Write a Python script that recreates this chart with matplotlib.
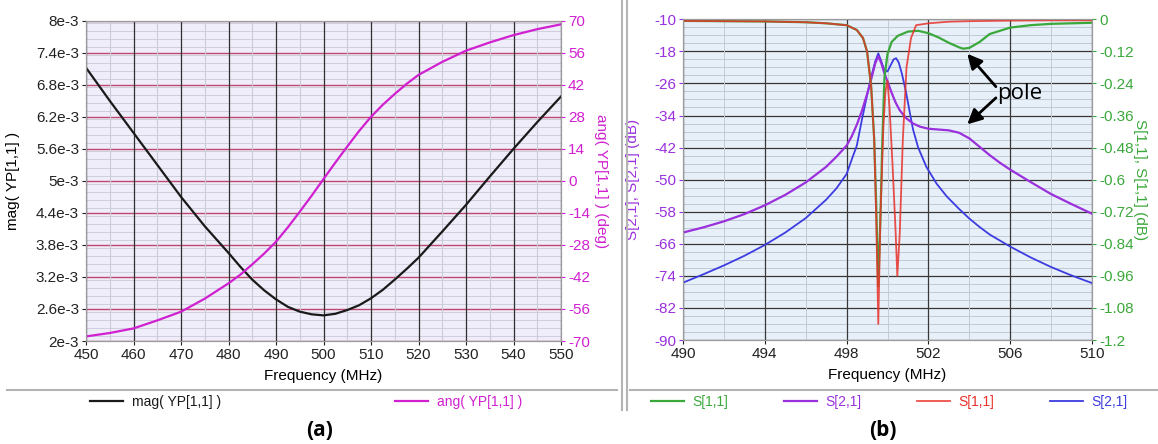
import numpy as np
import matplotlib.pyplot as plt
from matplotlib.ticker import MultipleLocator, FuncFormatter
from matplotlib.lines import Line2D

plt.rcParams['font.family'] = ['Liberation Sans', 'DejaVu Sans']
plt.rcParams['axes.unicode_minus'] = False

# ---- panel (a): YP[1,1] ----
freq_a = [450, 455, 460, 465, 470, 475, 480, 482.5, 485, 487.5, 490, 492.5, 495, 497.5, 500,
          502.5, 505, 507.5, 510, 512.5, 515, 517.5, 520, 525, 530, 535, 540, 545, 550]
mag_a = [7.12e-3, 6.50e-3, 5.90e-3, 5.30e-3, 4.70e-3, 4.15e-3, 3.65e-3, 3.39e-3, 3.15e-3, 2.95e-3,
         2.78e-3, 2.64e-3, 2.55e-3, 2.50e-3, 2.48e-3, 2.51e-3, 2.58e-3, 2.67e-3, 2.80e-3, 2.96e-3,
         3.15e-3, 3.35e-3, 3.56e-3, 4.05e-3, 4.55e-3, 5.08e-3, 5.60e-3, 6.10e-3, 6.58e-3]
ang_a = [-68.0, -66.5, -64.5, -61.0, -57.2, -51.5, -44.8, -41.0, -36.5, -31.8, -26.6, -20.3, -13.5,
         -6.5, 0.8, 8.0, 15.0, 21.8, 28.0, 33.3, 38.0, 42.4, 46.3, 52.0, 56.9, 60.5, 63.7, 66.3, 68.4]

# ---- panel (b): S-parameters ----
freq_blue = [490, 491, 492, 493, 494, 495, 496, 497, 497.5, 498,
             498.25, 498.5, 498.75, 499, 499.2, 499.4, 499.55, 499.7, 499.85, 500,
             500.15, 500.3, 500.42, 500.55, 500.7, 500.9, 501.1, 501.25, 501.5, 501.9,
             502.4, 502.9, 503.5, 504, 504.5, 505, 505.5, 506, 507, 508, 509, 510]
s21_blue = [-75.7, -73.6, -71.4, -69.0, -66.3, -63.2, -59.6, -55.0, -52.2, -48.6,
            -45.0, -41.5, -35.0, -29.0, -24.5, -20.5, -18.5, -20.5, -22.8, -23.0,
            -21.5, -20.0, -19.7, -20.8, -23.5, -28.0, -33.5, -37.5, -42.0, -46.8,
            -51.0, -54.2, -57.3, -59.7, -61.8, -63.7, -65.2, -66.7, -69.4, -71.8, -73.9, -75.8]

freq_purple = [490, 491, 492, 493, 494, 495, 496, 497, 497.5, 498,
               498.25, 498.5, 498.75, 499, 499.2, 499.4, 499.55, 499.7, 499.85, 500,
               500.2, 500.4, 500.6, 500.9, 501.25, 501.6, 502, 502.5, 503, 503.5,
               504, 504.5, 505, 505.5, 506, 507, 508, 509, 510]
s21_purple = [-63.2, -61.9, -60.4, -58.6, -56.4, -53.8, -50.7, -46.8, -44.3, -41.5,
              -39.2, -36.3, -32.8, -28.7, -25.0, -21.0, -19.2, -21.0, -23.5, -25.5,
              -28.3, -30.8, -32.7, -34.6, -36.0, -36.8, -37.3, -37.5, -37.7, -38.3,
              -39.7, -41.8, -43.9, -45.8, -47.5, -50.6, -53.6, -56.1, -58.5]

freq_red = [490, 492, 494, 496, 497, 498, 498.5, 498.8, 499.0, 499.2, 499.35, 499.45, 499.55,
            499.65, 499.8, 499.9, 500.0, 500.1, 500.25, 500.4, 500.48, 500.6, 500.75, 500.93,
            501.15, 501.4, 502, 503, 504, 506, 508, 510]
s11_red = [-0.006, -0.007, -0.008, -0.011, -0.015, -0.022, -0.04, -0.07, -0.12, -0.25, -0.45, -0.75, -1.14,
           -0.75, -0.4, -0.27, -0.23, -0.33, -0.55, -0.8, -0.96, -0.8, -0.45, -0.18,
           -0.07, -0.022, -0.015, -0.009, -0.007, -0.005, -0.004, -0.004]

freq_green = [490, 492, 494, 496, 497, 498, 498.5, 498.8, 499.0, 499.2, 499.35, 499.45, 499.55,
              499.65, 499.75, 499.85, 500.0, 500.2, 500.5, 501.0, 501.5, 502, 502.5, 503, 503.5,
              503.7, 504, 504.5, 505, 506, 507, 508, 510]
s11_green = [-0.006, -0.007, -0.008, -0.011, -0.015, -0.022, -0.04, -0.07, -0.12, -0.25, -0.45, -0.7, -1.0,
             -0.75, -0.45, -0.22, -0.13, -0.085, -0.062, -0.046, -0.043, -0.052, -0.068, -0.088, -0.105,
             -0.11, -0.107, -0.085, -0.055, -0.031, -0.022, -0.017, -0.013]

W, H = 1158, 444
fig = plt.figure(figsize=(W / 100, H / 100), dpi=100)
fig.patch.set_facecolor('white')

MAGENTA = '#d020d0'
GREEN = '#3aa83a'
PURPLE = '#9a30dc'
RED = '#e8322a'
BLUE = '#3c3ce0'


def style_spines(ax):
    for s in ax.spines.values():
        s.set_color('#9a9a9a')
        s.set_linewidth(0.8)


def entry(handle, x):
    # one legend entry below a panel, handle starting at pixel x
    fig.legend([handle], [handle.get_label()], loc='center left',
               bbox_to_anchor=(x / W, 1 - 402 / H), frameon=False,
               borderpad=0, borderaxespad=0, handlelength=2.4, handletextpad=0.6,
               fontsize=10, labelcolor='linecolor')


# ---------- (a) ----------
ax1 = fig.add_axes([86 / W, 1 - 341 / H, 475 / W, 320.3 / H])
ax1.set_facecolor('#eeedf9')
ax1.set_axisbelow(True)
ax1.xaxis.set_zorder(0.6)
ax1.set_xlim(450, 550)
ax1.set_ylim(2e-3, 8e-3)
ax1.xaxis.set_major_locator(MultipleLocator(10))
ax1.xaxis.set_minor_locator(MultipleLocator(5))
ax1.set_yticks(np.linspace(2e-3, 8e-3, 11))
ax1.yaxis.set_minor_locator(MultipleLocator(0.15e-3))
ax1.yaxis.set_major_formatter(FuncFormatter(lambda v, p: f"{round(v * 1e3, 1):g}e-3"))
ax1.grid(True, which='major', axis='x', color='#303030', lw=0.9)
ax1.grid(True, which='minor', axis='x', color='#cacada', lw=0.8)
ax1.grid(True, which='major', axis='y', color='#c04870', lw=1.0)
ax1.grid(True, which='minor', axis='y', color='#cfcfdd', lw=0.7)
ax1.tick_params(which='minor', length=0)
ax1.tick_params(which='major', length=3, pad=2, labelsize=11, colors='#222222')
l_mag, = ax1.plot(freq_a, mag_a, color='#1a1a1a', lw=1.6, label='mag( YP[1,1] )')
ax1.set_xlabel('Frequency (MHz)', fontsize=11, labelpad=5)
ax1.set_ylabel('mag( YP[1,1] )', fontsize=11)
ax1.yaxis.set_label_coords(-0.139, 0.5)
style_spines(ax1)

ax1b = ax1.twinx()
ax1b.set_ylim(-70, 70)
ax1b.set_yticks(np.arange(-70, 71, 14))
ax1b.tick_params(length=3, pad=2, labelsize=11, colors=MAGENTA)
l_ang, = ax1b.plot(freq_a, ang_a, color=MAGENTA, lw=1.6, label='ang( YP[1,1] )')
ax1b.set_ylabel('ang( YP[1,1] ) (deg)', fontsize=11, color=MAGENTA, rotation=270)
ax1b.yaxis.set_label_coords(1.1, 0.5)
style_spines(ax1b)

entry(l_mag, 90)
entry(l_ang, 395)

# ---------- (b) ----------
ax2 = fig.add_axes([683 / W, 1 - 340 / H, 409 / W, 320.7 / H])
ax2.set_facecolor('#e7eff9')
ax2.set_axisbelow(True)
ax2.xaxis.set_zorder(0.6)
ax2.set_xlim(490, 510)
ax2.set_ylim(-90, -10)
ax2.set_xticks(np.arange(490, 511, 4))
ax2.set_xticks(np.arange(492, 510, 4), minor=True)
ax2.set_yticks(np.arange(-90, -9, 8))
ax2.yaxis.set_minor_locator(MultipleLocator(2))
ax2.grid(True, which='major', color='#383838', lw=0.9)
ax2.grid(True, which='minor', color='#c0cad6', lw=0.7)
ax2.tick_params(which='minor', length=0)
ax2.tick_params(axis='x', which='major', length=3, pad=2, labelsize=11, colors='#222222')
ax2.tick_params(axis='y', which='major', length=3, pad=2, labelsize=11, colors=PURPLE)
l_blue, = ax2.plot(freq_blue, s21_blue, color=BLUE, lw=1.3, label='S[2,1]')
l_purple, = ax2.plot(freq_purple, s21_purple, color=PURPLE, lw=1.6, label='S[2,1]')
ax2.set_xlabel('Frequency (MHz)', fontsize=11, labelpad=5)
ax2.set_ylabel('S[2,1], S[2,1] (dB)', fontsize=11, color=PURPLE)
ax2.yaxis.set_label_coords(-0.105, 0.5)
style_spines(ax2)

ax2b = ax2.twinx()
ax2b.set_ylim(-1.2, 0)
ax2b.set_yticks(np.linspace(-1.2, 0, 11))
ax2b.yaxis.set_major_formatter(FuncFormatter(lambda v, p: f"{round(v, 2):g}"))
ax2b.tick_params(length=3, pad=2, labelsize=11, colors=GREEN)
l_green, = ax2b.plot(freq_green, s11_green, color=GREEN, lw=1.6, label='S[1,1]')
l_red, = ax2b.plot(freq_red, s11_red, color=RED, lw=1.3, alpha=0.85, label='S[1,1]')
ax2b.set_ylabel('S[1,1], S[1,1] (dB)', fontsize=11, color=GREEN, rotation=270)
ax2b.yaxis.set_label_coords(1.135, 0.5)
style_spines(ax2b)

# pole annotations
ax2.text(505.35, -28.4, 'pole', fontsize=16, ha='left', va='center',
         family=['Open Sans', 'DejaVu Sans'], zorder=10)
arrow = dict(arrowstyle='-|>', color='black', lw=2, mutation_scale=22, shrinkA=0, shrinkB=0)
ax2.annotate('', xy=(503.9, -18.6), xytext=(505.3, -26.8), arrowprops=arrow, zorder=10)
ax2.annotate('', xy=(503.9, -36.2), xytext=(505.3, -29.6), arrowprops=arrow, zorder=10)

entry(l_green, 651)
entry(l_purple, 784)
entry(l_red, 917)
entry(l_blue, 1050)

# panel frames
sep = '#b4b4b4'
fig.add_artist(Line2D([7 / W, 617 / W], [1 - 390 / H] * 2, color=sep, lw=1.5))
fig.add_artist(Line2D([630 / W, 1 - 1 / W], [1 - 390 / H] * 2, color=sep, lw=1.5))
fig.add_artist(Line2D([622 / W] * 2, [1 - 410 / H, 1], color=sep, lw=1.5))
fig.add_artist(Line2D([627 / W] * 2, [1 - 410 / H, 1], color=sep, lw=1.5))

fig.text(320 / W, 1 - 430 / H, '(a)', fontsize=15, fontweight='bold', ha='center', va='center',
         family=['Open Sans', 'DejaVu Sans'])
fig.text(883 / W, 1 - 430 / H, '(b)', fontsize=15, fontweight='bold', ha='center', va='center',
         family=['Open Sans', 'DejaVu Sans'])

fig.savefig('out.png', dpi=100)
